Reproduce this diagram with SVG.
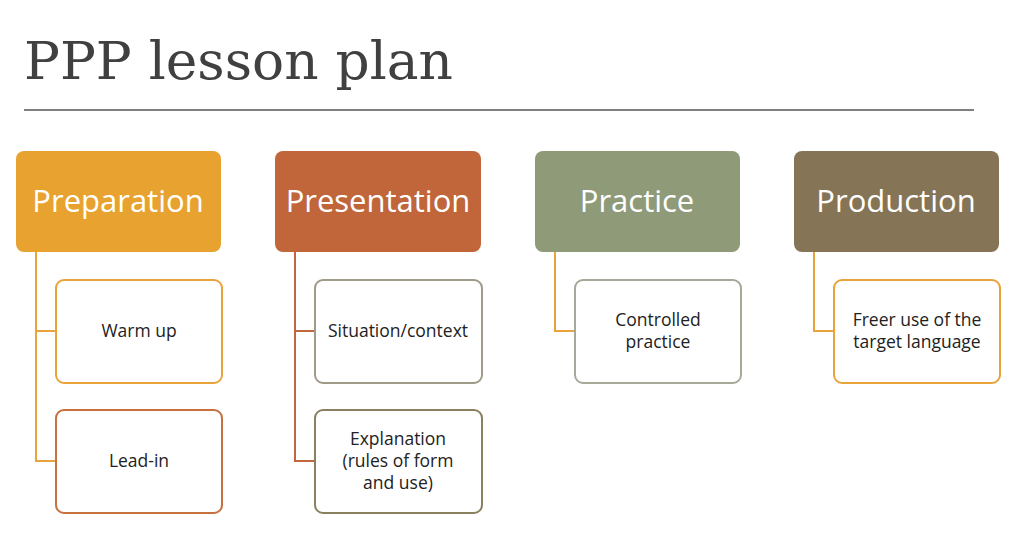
<svg xmlns="http://www.w3.org/2000/svg" width="1024" height="534" viewBox="0 0 1024 534">
<style>
.h{font-family:"Open Sans","Liberation Sans",sans-serif;font-size:31px;fill:#fff;text-anchor:middle}
.c{font-family:"Open Sans","Liberation Sans",sans-serif;font-size:17.5px;fill:#222;text-anchor:middle}
.b{fill:#fff;stroke-width:2}
.l{fill:none;stroke-width:2}
</style>
<rect width="1024" height="534" fill="#fff"/>
<text x="24" y="79" font-family="DejaVu Serif,serif" font-size="52" fill="#404040" textLength="429" lengthAdjust="spacingAndGlyphs">PPP lesson plan</text>
<line x1="24" y1="110" x2="974" y2="110" stroke="#555" stroke-width="1.5"/>
<g id="connectors">
<path class="l" stroke="#E8A43A" d="M36 252V461H56M36 331H56"/>
<path class="l" stroke="#C0663A" d="M295 252V461H315M295 331H315"/>
<path class="l" stroke="#E8A43A" d="M555 252V331H575"/>
<path class="l" stroke="#E8A43A" d="M814 252V331H834"/>
</g>
<g id="preparation"><rect x="16" y="151" width="205" height="101" rx="8" fill="#E8A230"/><text class="h" x="118" y="212">Preparation</text></g>
<g id="presentation"><rect x="275" y="151" width="206" height="101" rx="8" fill="#C0663A"/><text class="h" x="378" y="212">Presentation</text></g>
<g id="practice"><rect x="535" y="151" width="205" height="101" rx="8" fill="#8F9A78"/><text class="h" x="637" y="212">Practice</text></g>
<g id="production"><rect x="794" y="151" width="205" height="101" rx="8" fill="#857556"/><text class="h" x="896" y="212">Production</text></g>
<g id="warmup"><rect class="b" x="56" y="280" width="166" height="103" rx="8" stroke="#E8A43A"/><text class="c" x="139" y="337">Warm up</text></g>
<g id="leadin"><rect class="b" x="56" y="410" width="166" height="103" rx="8" stroke="#C8703F"/><text class="c" x="139" y="467">Lead-in</text></g>
<g id="situation"><rect class="b" x="315" y="280" width="167" height="103" rx="8" stroke="#A09A88"/><text class="c" x="398" y="337">Situation/context</text></g>
<g id="explanation"><rect class="b" x="315" y="410" width="167" height="103" rx="8" stroke="#8A8060"/><text class="c" x="398" y="445">Explanation</text><text class="c" x="398" y="467">(rules of form</text><text class="c" x="398" y="489">and use)</text></g>
<g id="controlled"><rect class="b" x="575" y="280" width="166" height="103" rx="8" stroke="#A8A898"/><text class="c" x="658" y="326">Controlled</text><text class="c" x="658" y="348">practice</text></g>
<g id="freer"><rect class="b" x="834" y="280" width="166" height="103" rx="8" stroke="#E8A43A"/><text class="c" x="917" y="326">Freer use of the</text><text class="c" x="917" y="348">target language</text></g>
</svg>
